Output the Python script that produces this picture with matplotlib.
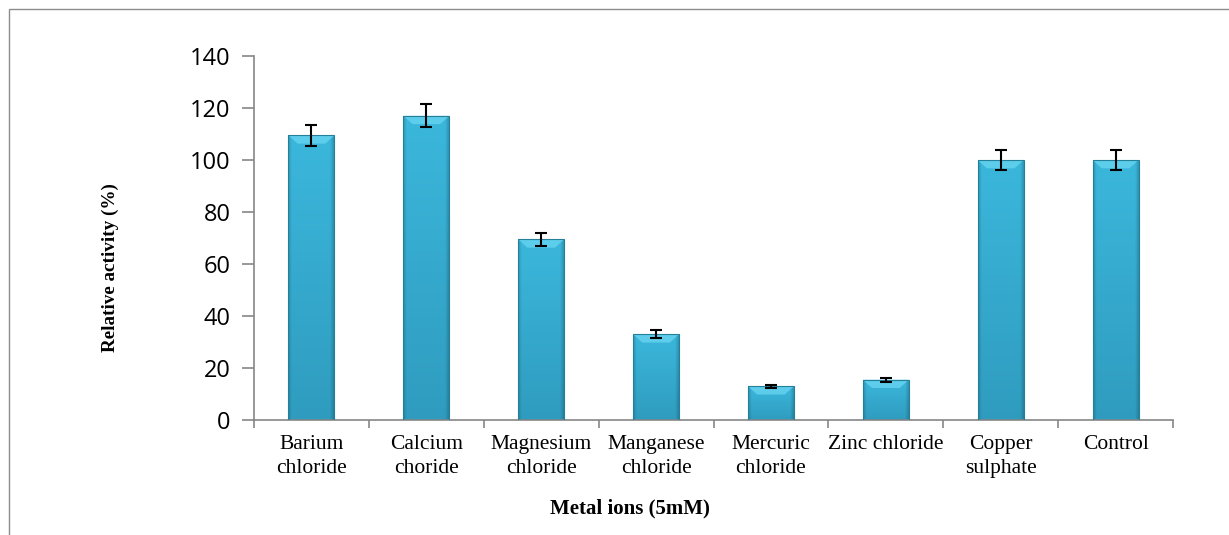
import numpy as np
import matplotlib
matplotlib.use("Agg")
import matplotlib.pyplot as plt
from matplotlib.patches import Rectangle, Polygon

# datos
categorias = ["Barium\nchloride", "Calcium\nchoride", "Magnesium\nchloride",
              "Manganese\nchloride", "Mercuric\nchloride", "Zinc chloride",
              "Copper\nsulphate", "Control"]
actividad = [109.5, 117.0, 69.5, 33.0, 13.0, 15.5, 100.0, 100.0]
error = [4.0, 4.5, 2.5, 1.5, 0.6, 0.8, 4.0, 4.0]
y_ticks = [0, 20, 40, 60, 80, 100, 120, 140]

W, H = 1229, 535
fig = plt.figure(figsize=(W / 100, H / 100), dpi=100)

# marco exterior (cortado a la derecha y abajo)
fig.patches.append(Rectangle((9 / W, -0.05), 1.2, 1 - 9 / H + 0.05,
                             transform=fig.transFigure, fill=False,
                             edgecolor="#8c8c8c", lw=1.0))

ax = fig.add_axes([254 / W, 115 / H, (1173 - 254) / W, (479 - 115) / H])

x = np.arange(len(categorias))
barras = ax.bar(x, actividad, width=0.40, color="none", edgecolor="#247f99",
                linewidth=0.8, zorder=3)

# relleno con degradado suave y bisel superior
gh = np.linspace(0, 1, 100)
perfil = np.ones_like(gh)
borde = np.minimum(gh, 1 - gh)
perfil[borde < 0.08] = 0.82 + 0.18 * borde[borde < 0.08] / 0.08
gv = np.linspace(0, 1, 100)[:, None]
top = np.array([0x3b, 0xb7, 0xdc]) / 255
bot = np.array([0x2f, 0x9c, 0xbf]) / 255
img = (bot * (1 - gv[..., None]) + top * gv[..., None]) * perfil[None, :, None]
img = np.clip(img, 0, 1)

for b in barras:
    x0, y0 = b.get_x(), b.get_y()
    w, h = b.get_width(), b.get_height()
    im = ax.imshow(img, extent=[x0, x0 + w, y0, y0 + h], origin="lower",
                   aspect="auto", zorder=2, interpolation="bilinear")
    im.set_clip_path(b)
    d = w * 0.2
    hh = min(3.2, h * 0.3)
    bisel = Polygon([(x0, y0 + h), (x0 + w, y0 + h), (x0 + w - d, y0 + h - hh),
                     (x0 + d, y0 + h - hh)], closed=True,
                    facecolor="#62d0ee", edgecolor="none", alpha=0.9, zorder=2.5)
    ax.add_patch(bisel)

ax.errorbar(x, actividad, yerr=error, fmt="none", ecolor="black",
            elinewidth=1.5, capsize=4.5, capthick=1.5, zorder=4)

ax.set_xlim(-0.5, len(categorias) - 0.5)
ax.set_ylim(0, 140)
ax.set_yticks(y_ticks)
ax.set_yticklabels([str(v) for v in y_ticks], family="Open Sans", fontsize=17)

ax.set_xticks(x)
ax.set_xticklabels(categorias, family="Liberation Serif", fontsize=15.5,
                   linespacing=1.35)
ax.set_xticks(np.arange(len(categorias) + 1) - 0.5, minor=True)
ax.tick_params(axis="x", which="major", length=0, pad=11)
ax.tick_params(axis="x", which="minor", length=6, color="#868686", width=1.2)
ax.tick_params(axis="y", length=9, color="#868686", width=1.2, pad=8)

for lado in ["top", "right"]:
    ax.spines[lado].set_visible(False)
for lado in ["left", "bottom"]:
    ax.spines[lado].set_color("#868686")
    ax.spines[lado].set_linewidth(1.2)

fig.text(630 / W, 1 - 508 / H, "Metal ions (5mM)", ha="center", va="center",
         family="Liberation Serif", weight="bold", fontsize=15)
fig.text(110 / W, 1 - 268 / H, "Relative activity (%)", ha="center", va="center",
         rotation=90, family="Liberation Serif", weight="bold", fontsize=13.8)

fig.savefig("out.png", dpi=100)
